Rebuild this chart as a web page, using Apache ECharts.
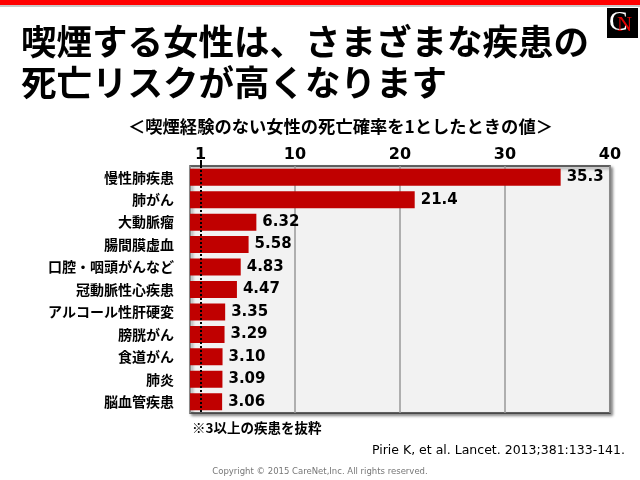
<!DOCTYPE html>
<html>
<head>
<meta charset="utf-8">
<script src="https://cdn.jsdelivr.net/npm/echarts@6/dist/echarts.min.js"></script>
<style>html,body{margin:0;padding:0;background:#fff;}#c{width:640px;height:480px;}</style>
</head>
<body>
<div id="c"></div>
<script>
var categories = ['慢性肺疾患','肺がん','大動脈瘤','腸間膜虚血','口腔・咽頭がんなど','冠動脈性心疾患','アルコール性肝硬変','膀胱がん','食道がん','肺炎','脳血管疾患'];
var values = [35.3, 21.4, 6.32, 5.58, 4.83, 4.47, 3.35, 3.29, 3.10, 3.09, 3.06];
var valueLabels = ['35.3','21.4','6.32','5.58','4.83','4.47','3.35','3.29','3.10','3.09','3.06'];
var tickLabels = [1, 10, 20, 30, 40];
var referenceValue = 1;

var JP = '"Noto Sans CJK JP", sans-serif';
var chart = echarts.init(document.getElementById('c'), null, {renderer: 'canvas'});
chart.setOption({
  backgroundColor: '#ffffff',
  animation: false,
  grid: {
    left: 190, top: 166, width: 420, height: 247,
    show: true, backgroundColor: '#f2f2f2', borderColor: '#333', borderWidth: 1.5,
    shadowColor: 'rgba(0,0,0,0.45)', shadowBlur: 3, shadowOffsetX: 2, shadowOffsetY: 2
  },
  xAxis: [{
    type: 'value', position: 'top', min: 0, max: 40, interval: 10,
    axisLine: {show: false},
    axisTick: {show: false},
    axisLabel: {customValues: tickLabels, margin: 3, color: '#000', fontFamily: '"DejaVu Sans"', fontWeight: 'bold', fontSize: 16},
    splitLine: {show: true, lineStyle: {color: '#999', width: 1.5}}
  }, {
    type: 'value', position: 'top', min: 0, max: 40, interval: 10,
    axisLine: {show: false},
    axisTick: {show: true, customValues: [referenceValue], length: 6, lineStyle: {color: '#000', width: 2}},
    axisLabel: {show: false},
    splitLine: {show: false}
  }],
  yAxis: {
    type: 'category', inverse: true, data: categories,
    axisLine: {show: false}, axisTick: {show: false},
    axisLabel: {margin: 16, color: '#000', fontFamily: JP, fontWeight: 'bold', fontSize: 14}
  },
  series: [{
    type: 'bar', data: values, barWidth: 17, xAxisIndex: 0,
    itemStyle: {color: '#c00000'},
    label: {show: true, position: 'right', distance: 6, color: '#000', fontFamily: '"DejaVu Sans"', fontWeight: 'bold', fontSize: 15,
      formatter: function (p) { return valueLabels[p.dataIndex]; }},
    markLine: {
      silent: true, symbol: 'none', label: {show: false},
      lineStyle: {color: '#000', type: 'dotted', width: 2},
      data: [{xAxis: referenceValue}]
    }
  }],
  graphic: [
    {type: 'rect', shape: {x: 0, y: 0, width: 640, height: 5}, style: {fill: '#ff0000'}},
    {type: 'rect', shape: {x: 0, y: 5, width: 640, height: 2}, style: {fill: '#c8c8c8'}},
    {type: 'rect', shape: {x: 607, y: 8, width: 31, height: 30}, style: {fill: '#000'}},
    {type: 'text', x: 609, y: 9, style: {text: 'C', fill: '#fff', font: '28px "Liberation Serif", serif'}},
    {type: 'text', x: 617, y: 15, style: {text: 'N', fill: '#e00000', font: '21px "Liberation Serif", serif'}},
    {type: 'text', x: 21, y: 21, style: {text: '喫煙する女性は、さまざまな疾患の\n死亡リスクが高くなります', fill: '#000', font: 'bold 35.5px ' + JP, lineHeight: 41}},
    {type: 'text', x: 128, y: 118, style: {text: '＜喫煙経験のない女性の死亡確率を1としたときの値＞', fill: '#000', font: 'bold 17.3px ' + JP}},
    {type: 'text', x: 192, y: 421, style: {text: '※3以上の疾患を抜粋', fill: '#000', font: 'bold 13.5px ' + JP}},
    {type: 'text', x: 625, y: 444, style: {text: 'Pirie K, et al. Lancet. 2013;381:133-141.', fill: '#000', font: '12.5px "DejaVu Sans"', align: 'right'}},
    {type: 'text', x: 320, y: 467, style: {text: 'Copyright © 2015 CareNet,Inc. All rights reserved.', fill: '#777', font: '8.5px "DejaVu Sans"', align: 'center'}}
  ]
});
</script>
</body>
</html>
